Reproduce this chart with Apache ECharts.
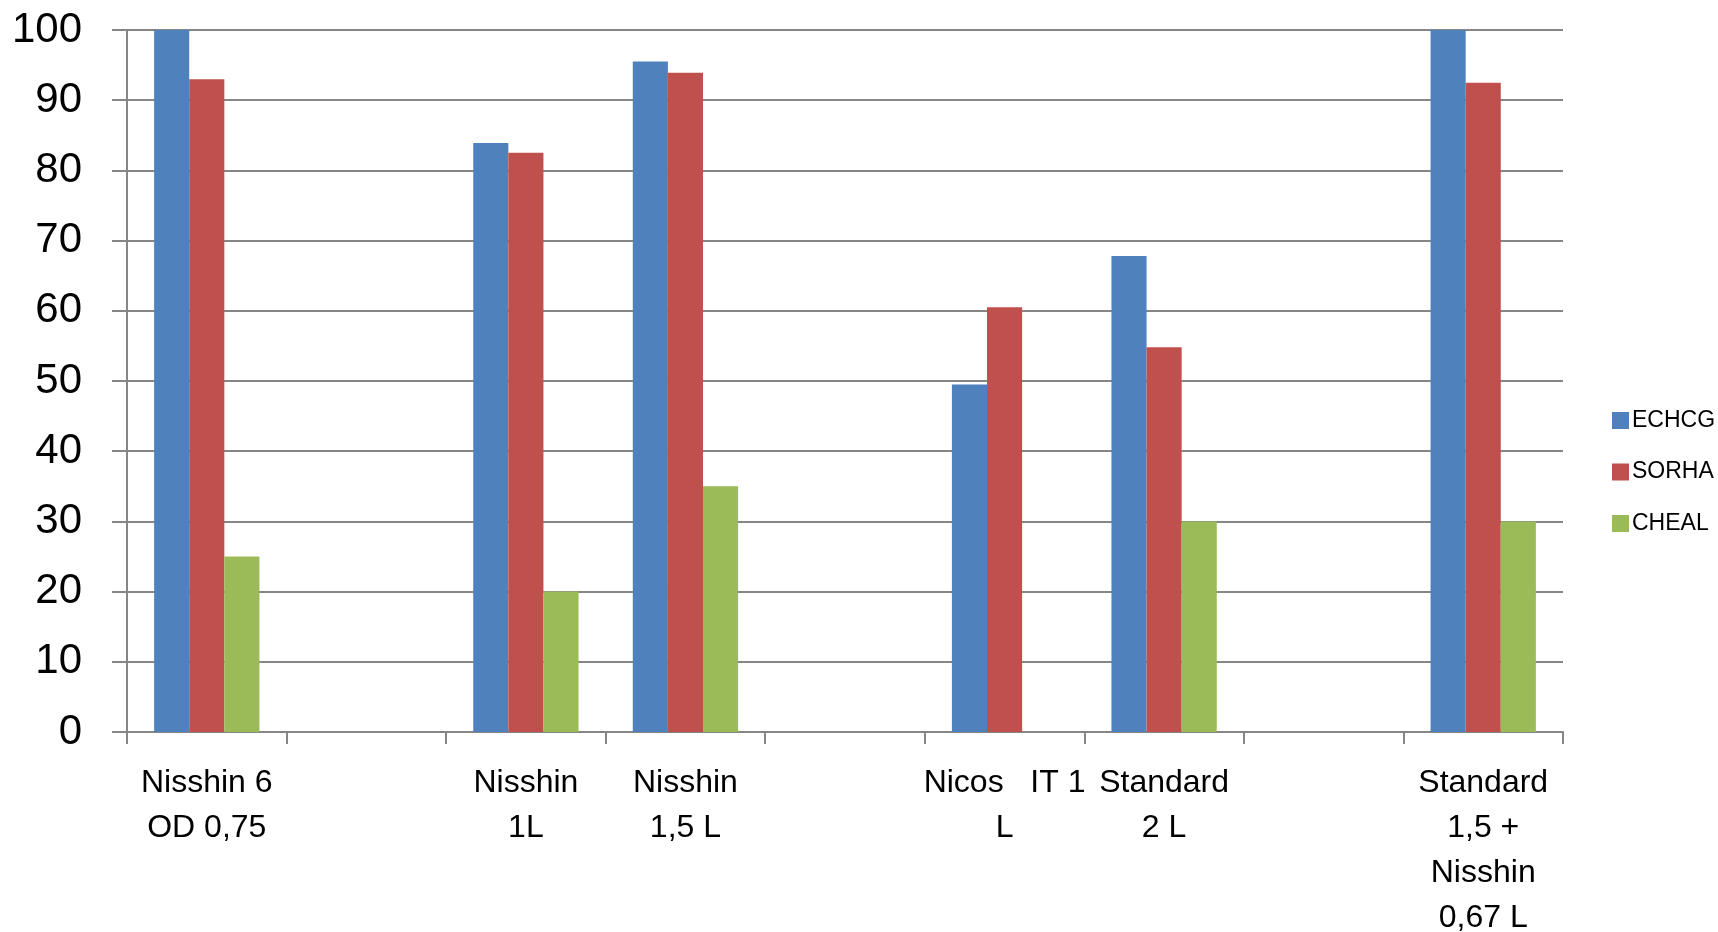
<!DOCTYPE html>
<html>
<head>
<meta charset="utf-8">
<script src="https://cdn.jsdelivr.net/npm/echarts@6/dist/echarts.min.js"></script>
<style>
html,body{margin:0;padding:0;background:#fff;}
#chart{width:1718px;height:932px;}
</style>
</head>
<body>
<div id="chart"></div>
<script>
const categories = [
  'Nisshin 6\nOD 0,75',
  '',
  'Nisshin\n1L',
  'Nisshin\n1,5 L',
  '',
  'Nicos   IT 1\nL',
  'Standard\n2 L',
  '',
  'Standard\n1,5 +\nNisshin\n0,67 L'
];
const seriesNames = ['ECHCG', 'SORHA', 'CHEAL'];
const echcg = [100, null, 83.9, 95.5, null, 49.5, 67.8, null, 100];
const sorha = [93, null, 82.5, 93.9, null, 60.5, 54.8, null, 92.5];
const cheal = [25, null, 20, 35, null, null, 30, null, 30];
const yTicks = [0, 10, 20, 30, 40, 50, 60, 70, 80, 90, 100];

const colors = ['#4F81BD', '#C0504D', '#9BBB59'];
const font = 'Liberation Sans';
const chart = echarts.init(document.getElementById('chart'));
chart.setOption({
  animation: false,
  backgroundColor: '#ffffff',
  color: colors,
  grid: { left: 127, right: 155, top: 30, bottom: 200, containLabel: false, outerBoundsMode: 'none' },
  legend: {
    orient: 'vertical',
    left: 1607,
    top: 404,
    itemWidth: 17,
    itemHeight: 17,
    itemGap: 28.5,
    icon: 'rect',
    data: seriesNames,
    textStyle: { fontFamily: font, fontSize: 23, color: '#000', lineHeight: 23, padding: [0, 0, 0, -2] }
  },
  xAxis: {
    type: 'category',
    data: categories,
    axisLine: { show: true, lineStyle: { color: '#868686', width: 2 } },
    axisTick: { show: true, alignWithLabel: false, length: 12, lineStyle: { color: '#868686', width: 2 } },
    axisLabel: {
      interval: 0,
      margin: 29,
      fontFamily: font,
      fontSize: 32,
      lineHeight: 45,
      color: '#000',
      align: 'center'
    },
    splitLine: { show: false }
  },
  yAxis: {
    type: 'value',
    min: yTicks[0],
    max: yTicks[yTicks.length - 1],
    interval: 10,
    axisLine: { show: true, lineStyle: { color: '#868686', width: 2 } },
    axisTick: { show: true, length: 15, lineStyle: { color: '#868686', width: 2 } },
    axisLabel: { margin: 45, fontFamily: font, fontSize: 42, color: '#000' },
    splitLine: { show: true, lineStyle: { color: '#868686', width: 2 } }
  },
  series: [
    { name: seriesNames[0], type: 'bar', data: echcg, barGap: '0%', barCategoryGap: '34%' },
    { name: seriesNames[1], type: 'bar', data: sorha, barGap: '0%', barCategoryGap: '34%' },
    { name: seriesNames[2], type: 'bar', data: cheal, barGap: '0%', barCategoryGap: '34%' }
  ]
});
</script>
</body>
</html>
